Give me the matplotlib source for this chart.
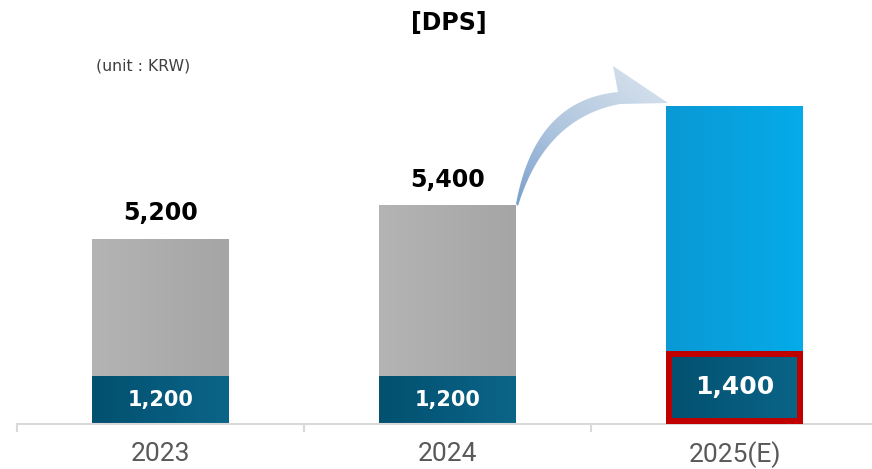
import numpy as np
import matplotlib
matplotlib.use("Agg")
import matplotlib.pyplot as plt
from matplotlib.colors import LinearSegmentedColormap
from matplotlib.patches import Polygon, Rectangle

plt.rcParams['font.family'] = ['DejaVu Sans']

# ---- data ----
years = ["2023", "2024", "2025(E)"]
total_labels = ["5,200", "5,400", ""]
base_labels = ["1,200", "1,200", "1,400"]
# drawn heights (the source chart is not to scale)
total_heights = [4710, 5560, 8100]
base_heights = [1200, 1200, 1840]

W, H = 872, 469
fig = plt.figure(figsize=(W / 100, H / 100), dpi=100)
ax = fig.add_axes([17 / W, 45.5 / H, 861 / W, 423.5 / H])
ax.set_xlim(-0.5, 2.5)
ax.set_ylim(0, 10800)

x = np.arange(len(years))
bw = 0.474

top_colors = ["#b4b4b4", "#b4b4b4", "#0a99d5"]
top_colors2 = ["#a5a5a5", "#a5a5a5", "#05abe9"]
base_c1, base_c2 = "#03506f", "#0a6588"

def grad_fill(ax, patch, c1, c2, z):
    b = patch.get_bbox()
    cmap = LinearSegmentedColormap.from_list("g", [c1, c2])
    img = ax.imshow(np.linspace(0, 1, 256)[None, :], cmap=cmap, aspect='auto',
                    extent=[b.x0, b.x1, b.y0, b.y1], zorder=z, interpolation='bilinear')
    img.set_clip_path(patch)

upper = [t - b for t, b in zip(total_heights, base_heights)]
bars_top = ax.bar(x, upper, bw, bottom=base_heights, color=top_colors, zorder=2, linewidth=0)
bars_base = ax.bar(x, base_heights, bw, color=base_c1, zorder=2, linewidth=0)
for i, p in enumerate(bars_top):
    grad_fill(ax, p, top_colors[i], top_colors2[i], 2.5)
for p in bars_base:
    grad_fill(ax, p, base_c1, base_c2, 2.5)
ax.set_xlim(-0.5, 2.5)
ax.set_ylim(0, 10800)

# red highlight border on the 2025 base bar (inside the bar)
hp = bars_base[2]
rb = Rectangle((hp.get_x(), hp.get_y()), hp.get_width(), hp.get_height(),
               fill=False, edgecolor="#c00000", linewidth=8.6, zorder=3)
ax.add_patch(rb)
rb.set_clip_path(hp)

# labels
for i in range(3):
    if total_labels[i]:
        ax.annotate(total_labels[i], (x[i], total_heights[i]), xytext=(0, 10),
                    textcoords='offset points', ha='center', va='bottom',
                    fontsize=17, fontweight='bold', color='#000000', zorder=5)
    ax.text(x[i], base_heights[i] / 2, base_labels[i], ha='center', va='center',
            fontsize=18 if i == 2 else 15, fontweight='bold', color='white', zorder=5)

# axes styling
for s in ['top', 'right', 'left']:
    ax.spines[s].set_visible(False)
ax.spines['bottom'].set_color('#d9d9d9')
ax.spines['bottom'].set_linewidth(1.5)
ax.set_yticks([])
ax.set_xticks(x)
ax.set_xticklabels(years, fontsize=19, color='#595959', family=['Roboto', 'DejaVu Sans'])
ax.tick_params(axis='x', which='major', length=0, pad=13)
ax.set_xticks([-0.5, 0.5, 1.5, 2.5], minor=True)
ax.tick_params(axis='x', which='minor', length=5.5, width=1.5, color='#d9d9d9')

# titles
fig.text(449 / W, 1 - 23 / H, "[DPS]", ha='center', va='center', fontsize=17,
         fontweight='bold', color='#000000')
fig.text(96 / W, 1 - 66 / H, "(unit : KRW)", ha='left', va='center', fontsize=11.3,
         color='#404040')

# curved arrow (decoration) in pixel coordinates
ov = fig.add_axes([0, 0, 1, 1], zorder=10)
ov.set_xlim(0, W)
ov.set_ylim(H, 0)
ov.axis('off')
ov.patch.set_alpha(0)

def qbez(p0, c, p2, n=40):
    t = np.linspace(0, 1, n)[:, None]
    return (1 - t) ** 2 * np.array(p0) + 2 * (1 - t) * t * np.array(c) + t ** 2 * np.array(p2)

up = qbez((516, 204), (535, 100), (618, 92))
lo = qbez((518, 206), (545, 118), (620, 104))
pts = np.vstack([up, [(613, 66), (668, 103)], lo[::-1]])
poly = Polygon(pts, closed=True, facecolor='none', edgecolor='none')
ov.add_patch(poly)
gx, gy = np.meshgrid(np.linspace(500, 680, 200), np.linspace(60, 210, 200))
t = ((gx - 520) * 0.6 + (210 - gy) * 0.8) / 170
t = np.clip(t, 0, 1)
acmap = LinearSegmentedColormap.from_list("a", ["#7a9fcc", "#aec5de", "#cfdcea"])
img = ov.imshow(t, cmap=acmap, extent=[500, 680, 210, 60], aspect='auto', zorder=11,
                interpolation='bilinear')
img.set_clip_path(poly)
ov.set_xlim(0, W)
ov.set_ylim(H, 0)

fig.savefig("out.png", dpi=100)
